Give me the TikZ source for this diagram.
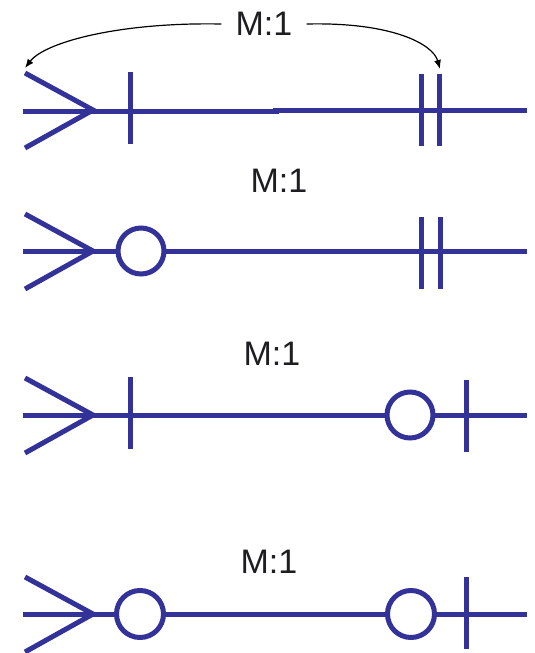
\documentclass[tikz,border=0pt]{standalone}
\usepackage{fontspec}
\setmainfont{Liberation Sans}
\usetikzlibrary{arrows.meta}
\definecolor{erblue}{RGB}{50,50,152}
\definecolor{labelink}{RGB}{30,30,34}
\tikzset{
  relline/.style={draw=erblue, line width=5pt},
  ringsym/.style={draw=erblue, line width=5pt, fill=white},
  ratio/.style={text=labelink, inner xsep=14pt, inner ysep=0pt,
    font=\fontsize{34}{40}\selectfont},
  pointer/.style={draw=black, line width=1.2pt,
    -{Latex[length=9pt,width=7pt]}}
}
% crow's foot: three prongs meeting at x=93 on the line at height #1
\newcommand{\crowfoot}[1]{%
  \draw[relline] (25,#1-37) -- (93,#1) -- (25,#1+38);}
\newcommand{\vbar}[2]{%
  \draw[relline] (#1,#2-36) -- (#1,#2+36);}
\begin{document}
\begin{tikzpicture}[x=1pt,y=-1pt]
\useasboundingbox (0,0) rectangle (535,653);
\fill[white] (0,0) rectangle (535,653);

% ---- mandatory many to mandatory one ----
\draw[relline] (23,111) -- (279,111);
\draw[relline] (273,110) -- (527,110);
\crowfoot{110}
\vbar{130}{108}
\vbar{421}{110}
\vbar{439}{110}
\node[ratio] (lbl1) at (264,24) {M:1};
\coordinate (tipL) at (25,68);
\coordinate (tipR) at (440,69);
\draw[pointer] (lbl1.west) .. controls (120,22) and (45,42) .. (tipL);
\draw[pointer] (lbl1.east) .. controls (392,22) and (433,44) .. (tipR);

% ---- optional many to mandatory one ----
\draw[relline] (23,251) -- (527,251);
\crowfoot{251}
\draw[ringsym] (141,251) circle (23);
\vbar{421}{253}
\vbar{440}{253}
\node[ratio] (lbl2) at (279,181) {M:1};

% ---- mandatory many to optional one ----
\draw[relline] (23,415) -- (527,415);
\crowfoot{415}
\vbar{130}{413}
\draw[ringsym] (410,415) circle (23);
\vbar{466}{416}
\node[ratio] (lbl3) at (272,354) {M:1};

% ---- optional many to optional one ----
\draw[relline] (23,614) -- (527,614);
\crowfoot{614}
\draw[ringsym] (140,614) circle (23.5);
\draw[ringsym] (411,614) circle (23.5);
\vbar{466}{613}
\node[ratio] (lbl4) at (269,562) {M:1};
\end{tikzpicture}
\end{document}
